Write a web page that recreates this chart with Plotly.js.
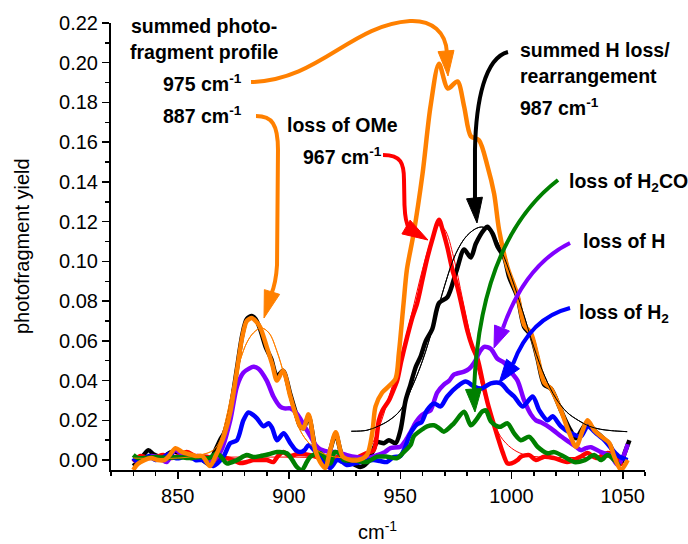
<!DOCTYPE html>
<html>
<head>
<meta charset="utf-8">
<script src="https://cdn.plot.ly/plotly-3.0.1.min.js"></script>
<style>html,body{margin:0;padding:0;background:#fff;}#chart{width:688px;height:544px;}</style>
</head>
<body>
<div id="chart"></div>
<script>
// ---- data ----
const sumX = [830,832,835,838,841,844,846,849,852,855,858,861,864.5,867,869,871,873.6,876.6,879,881,883.3,885,887,890,892.5,894.6,897.3,900.6,903,905,906.5,908.8,911.8,914,916.3,918.5,921,924,927.6,931,935,937.4,938.9,941.9,944.7,947.9,949.4,951.5,953,956,960,963.6,967.4,971.4,975.7,978.7,981.7,985.4,989.2,992.2,994.4,998.2,1002.7,1005.7,1008.7,1011.7,1014.7,1017.7,1022.2,1026,1029,1032,1034.2,1037.2,1040.2,1044,1046.2,1049.2,1052.2];
const sumY = [-0.005,-0.002,0.000,0.001,0.000,0.000,0.002,0.006,0.004,0.003,0.002,0.002,-0.003,0.002,0.007,0.013,0.024,0.045,0.062,0.070,0.0715,0.070,0.067,0.057,0.048,0.040,0.045,0.032,0.023,0.017,0.016,0.023,0.005,-0.001,-0.004,0.005,0.014,0.002,0.000,0.000,0.0025,0.0135,0.027,0.034,0.037,0.041,0.054,0.079,0.096,0.114,0.144,0.178,0.1995,0.187,0.1906,0.178,0.163,0.161,0.148,0.134,0.116,0.097,0.083,0.068,0.064,0.052,0.039,0.036,0.025,0.0135,0.0067,0.015,0.020,0.015,0.012,0.0085,0.0017,-0.005,0.000];

const hX = [830,833,836.8,839,841,844,847,850,853,856,860,864,866.5,869,871,873.6,876.6,879,881,883.3,885,887,889.5,892,894.6,897.3,900.6,903,905,906.5,908.8,911.8,914,916.3,918.5,921,924,927.6,932,935,937.5,939.6,942.6,944.9,947.9,950.1,952.4,954.6,957,959.1,961.5,964.4,967.4,971.2,975.2,978.7,981.7,984,987.7,989.2,991.5,993.7,996.7,999,1002.7,1005.7,1008.7,1011.7,1014.7,1017.7,1022.2,1026,1029,1032,1034.2,1037.2,1040.2,1044,1046.5,1049.2,1051,1053];
const hY = [-0.003,0.000,0.005,0.003,0.002,0.002,0.004,0.004,0.002,0.001,0.001,-0.002,0.004,0.010,0.014,0.025,0.046,0.063,0.071,0.0725,0.071,0.066,0.057,0.051,0.042,0.045,0.033,0.024,0.017,0.016,0.022,0.006,0.000,-0.003,0.005,0.013,0.002,-0.001,-0.0035,-0.0015,0.004,0.009,0.0085,0.010,0.0085,0.015,0.030,0.038,0.047,0.052,0.060,0.066,0.079,0.082,0.095,0.106,0.102,0.109,0.116,0.1175,0.114,0.1075,0.102,0.092,0.082,0.067,0.063,0.051,0.038,0.036,0.025,0.016,0.011,0.016,0.019,0.015,0.012,0.008,0.002,-0.0015,0.004,0.010];

const omeX = [830,833,837,840,843.5,847,850,854,858,863,867,871,875,878,881,884,887,890,893,895,897.6,900,904,909.6,914,918,922,926,930,935,938.1,940.4,942,944.9,947.2,948.6,950.5,953.1,955.5,957.6,960,962,964.4,967.4,969,971.2,973.4,975.5,977.2,980.2,982.4,984.7,987.7,989.2,991.5,993.7,996,998.2,1000,1002.7,1004.2,1008,1011,1014.7,1019.2,1025,1031,1034.2,1038,1043.2,1047,1049.5];
const omeY = [-0.001,0.002,0.001,0.0015,0.0025,0.001,0.002,0.004,0.002,0.0017,0.000,0.001,0.000,-0.0015,-0.001,0.000,0.000,0.000,-0.001,0.002,0.004,0.002,0.003,0.0025,0.001,0.000,0.0015,0.000,0.001,0.0035,0.005,0.020,0.025,0.030,0.036,0.040,0.050,0.062,0.072,0.079,0.091,0.101,0.111,0.121,0.116,0.107,0.096,0.088,0.080,0.065,0.057,0.051,0.036,0.029,0.020,0.012,0.004,-0.0017,-0.0017,0.000,0.0017,0.0025,0.000,0.0017,0.001,-0.001,0.0017,0.0035,0.001,0.0035,0.0017,-0.003];

const lossHX = [830,834,838,842,845,848.8,852,855.5,859,863,866,868,870,873.6,876.6,879.5,882,884,886.3,890,893,896,898,900.6,903,905,907.5,909.6,912,914,918.6,921.6,926,930,935,939.6,943,945.6,950.1,952.5,954.6,957,959.1,961.5,963.6,966.6,969.6,972,974.1,978.7,981,983.2,986,987.7,990.7,993.7,996.7,1000,1002.7,1005.7,1008.7,1011,1013.2,1017.7,1022.2,1026,1029,1031.2,1033.5,1035.7,1040.2,1044.7,1047.7,1050.7,1052.2];
const lossHY = [0.001,0.000,0.002,0.001,-0.001,0.005,0.003,0.0017,0.002,0.000,0.000,0.002,0.006,0.020,0.037,0.044,0.046,0.047,0.046,0.040,0.032,0.027,0.026,0.026,0.024,0.021,0.016,0.012,0.0075,0.0055,0.004,0.004,0.0025,0.0015,0.001,0.0025,0.004,0.006,0.0067,0.010,0.014,0.019,0.022,0.024,0.025,0.034,0.038,0.040,0.043,0.0445,0.046,0.049,0.055,0.057,0.056,0.051,0.049,0.044,0.040,0.030,0.023,0.020,0.019,0.016,0.012,0.009,0.0067,0.005,0.006,0.0065,0.004,0.002,-0.0025,0.003,0.008];

const lossH2X = [830,832,834.5,837,840,843,846,849,851,855,858,861,866,870.5,873.6,876.6,879.5,881.8,883.5,885.6,888.6,890.8,892.5,894.6,897.6,900.6,903,905,907,908.8,912.6,915,917.1,918.6,921.6,924,926,930,934,938.1,941,944,947,950,952,954.6,957.6,959.5,962,965.1,968.1,971.1,975.6,979.4,983.2,986.5,990.7,995.2,998.2,1001.2,1005,1009.5,1012.5,1016.2,1018.5,1022.2,1026.7,1031.2,1034.2,1038,1041.7,1045.5,1048.5,1052.2];
const lossH2Y = [0.001,-0.001,0.000,0.002,0.000,0.001,0.003,0.001,0.001,0.0025,0.000,0.000,-0.003,0.0017,0.0085,0.010,0.020,0.024,0.023,0.021,0.017,0.0185,0.016,0.010,0.0135,0.0085,0.005,0.004,0.005,0.0075,0.0034,0.000,-0.003,-0.004,0.000,-0.001,-0.0025,-0.0015,-0.0005,0.000,-0.0005,-0.001,0.0015,0.002,0.006,0.0135,0.018,0.019,0.025,0.0285,0.027,0.032,0.037,0.0395,0.037,0.036,0.0386,0.0386,0.035,0.032,0.027,0.032,0.025,0.020,0.022,0.017,0.0135,0.012,0.017,0.0135,0.010,0.005,0.0017,0.000];

const h2coX = [830,832,835,840,845,850,855,860,864,867.5,870,872,876.6,881,884,887,891,894.6,899,901.5,903.5,905.8,908,909.6,914,918.6,920.5,923,924.6,929,935,939.6,944.1,948.6,951.6,954.6,956.1,960.6,962.1,965.1,967.5,969.6,974.1,978.7,981.7,984,986.9,988.5,990.7,993.7,995.2,998.2,1001.2,1004.2,1008,1011.7,1016.2,1019.2,1023.7,1028.2,1033,1037.2,1040.2,1043.2,1046.2,1048.5];
const h2coY = [0.0025,0.001,0.001,0.0015,0.001,0.0015,0.001,0.0015,0.001,0.0034,0.001,-0.0017,0.000,0.0025,0.0015,0.002,0.003,0.004,0.0034,0.000,-0.0034,-0.005,-0.001,0.0017,0.0035,-0.0017,0.004,0.003,0.000,0.000,-0.001,0.0017,0.0017,0.001,0.004,0.0075,0.012,0.016,0.017,0.0175,0.016,0.0143,0.0185,0.0243,0.0175,0.020,0.0245,0.025,0.0195,0.017,0.0168,0.0185,0.0134,0.010,0.0117,0.0067,0.0034,0.004,0.0017,-0.001,0.000,0.0025,0.000,0.0025,0.000,-0.003];

// fitted profiles (thin lines)
const fit887X = [830,850,860,866,869,872,875,878,881,884,887.5,891,894.5,898,901,905,909,914,920,928,935];
const fit887Y = [0.001,0.001,0.0025,0.005,0.010,0.022,0.038,0.050,0.059,0.064,0.0665,0.064,0.055,0.042,0.028,0.015,0.0085,0.004,0.0017,0.001,0.001];
const fitOMeX = [830,900,930,935,940,945,950,955,960,964,967,970,974,978,982,986,990,995,1000,1005,1010,1050];
const fitOMeY = [0.0015,0.0015,0.0015,0.004,0.015,0.032,0.051,0.073,0.096,0.111,0.118,0.116,0.102,0.081,0.060,0.040,0.025,0.012,0.006,0.003,0.0018,0.0015];
const fitHX = [928,935,940,945,950,955,960,965,970,975,980,985,988,992,996,1000,1005,1010,1015,1020,1025,1030,1035,1040,1045,1052];
const fitHY = [0.0145,0.015,0.017,0.020,0.025,0.036,0.050,0.068,0.088,0.104,0.113,0.117,0.117,0.113,0.104,0.092,0.075,0.057,0.042,0.031,0.024,0.020,0.017,0.0155,0.0148,0.0143];

const xTicks = [850,900,950,1000,1050];
const yTicks = [0,0.02,0.04,0.06,0.08,0.10,0.12,0.14,0.16,0.18,0.20,0.22];

// ---- colours ----
const ORANGE = '#FF8000', RED = '#FF0000', PURPLE = '#8000FF', BLUE = '#0000FF', GREEN = '#008000', BLACK = '#000000';

function thick(x, y, c){ return {x:x, y:y, type:'scatter', mode:'lines', line:{color:c, width:4.5, shape:'spline', smoothing:0.8}, hoverinfo:'skip', showlegend:false}; }
function thin(x, y, c){ return {x:x, y:y, type:'scatter', mode:'lines', line:{color:c, width:1, shape:'spline', smoothing:1}, hoverinfo:'skip', showlegend:false}; }

const traces = [
  thin(fit887X, fit887Y, ORANGE),
  thin(fitOMeX, fitOMeY, RED),
  thin(fitHX, fitHY, BLACK),
  thick(hX, hY, BLACK),
  thick(omeX, omeY, RED),
  thick(lossHX, lossHY, PURPLE),
  thick(lossH2X, lossH2Y, BLUE),
  thick(h2coX, h2coY, GREEN),
  thick(sumX, sumY, ORANGE),
  thin(fit887X, fit887Y, ORANGE),
  thin(fitHX, fitHY, BLACK)
];

// ---- pixel -> paper helpers for annotations / arrows ----
const PL = 111, PT = 23, PW = 534, PH = 447;
function px(x){ return (x - PL) / PW; }
function py(y){ return (PT + PH - y) / PH; }
function P(x, y){ return px(x).toFixed(4) + ',' + py(y).toFixed(4); }

function arrowBody(d, c){ return {type:'path', xref:'paper', yref:'paper', path:d, line:{color:c, width:4}, fillcolor:'rgba(0,0,0,0)'}; }
function arrowHead(tip, back, hw, c){
  const dx = tip[0]-back[0], dy = tip[1]-back[1];
  const len = Math.sqrt(dx*dx+dy*dy);
  const nx = -dy/len*hw, ny = dx/len*hw;
  const d = 'M' + P(tip[0], tip[1]) + ' L' + P(back[0]+nx, back[1]+ny) + ' L' + P(back[0]-nx, back[1]-ny) + ' Z';
  return {type:'path', xref:'paper', yref:'paper', path:d, line:{color:c, width:1}, fillcolor:c};
}

const shapes = [
  // orange: summed profile 975
  arrowBody('M' + P(251,82) + ' C' + P(320,80) + ' ' + P(350,25) + ' ' + P(410,21) + ' C' + P(432,20) + ' ' + P(446,32) + ' ' + P(447,53), ORANGE),
  arrowHead([448,76], [446,51], 8, ORANGE),
  // orange: 887
  arrowBody('M' + P(256,116) + ' C' + P(272,116) + ' ' + P(278,124) + ' ' + P(278,150) + ' L' + P(277,265) + ' C' + P(276,283) + ' ' + P(273,290) + ' ' + P(271,295), ORANGE),
  arrowHead([264,318], [272,292], 8, ORANGE),
  // red: OMe
  arrowBody('M' + P(383,155) + ' C' + P(401,155) + ' ' + P(404,163) + ' ' + P(404,180) + ' L' + P(404.5,205) + ' C' + P(405,218) + ' ' + P(406,224) + ' ' + P(409,228), RED),
  arrowHead([428,240], [406,227], 8, RED),
  // black: H loss
  arrowBody('M' + P(508,52) + ' C' + P(485,58) + ' ' + P(476,100) + ' ' + P(475,150) + ' L' + P(475,200), BLACK),
  arrowHead([477,223], [474.5,198], 8, BLACK),
  // green: H2CO
  arrowBody('M' + P(558,180) + ' Q' + P(480,240) + ' ' + P(474,390), GREEN),
  arrowHead([475,412], [473.5,389], 8, GREEN),
  // purple: H
  arrowBody('M' + P(570,243) + ' Q' + P(525,265) + ' ' + P(503,328), PURPLE),
  arrowHead([494,348], [502,328], 8, PURPLE),
  // blue: H2
  arrowBody('M' + P(570,308) + ' Q' + P(530,318) + ' ' + P(513,364), BLUE),
  arrowHead([499,383], [513,364], 8, BLUE)
];

const FONT = 'Liberation Sans, Arial, sans-serif';
function txt(s, x, y, anchor, size){
  return {text:s, xref:'paper', yref:'paper', x:px(x), y:py(y), xanchor:anchor||'center', yanchor:'middle', showarrow:false, font:{family:FONT, size:size||19.5, color:'#000'}};
}

const annotations = [
  txt('<b>summed photo-</b>', 204, 26),
  txt('<b>fragment profile</b>', 204, 52),
  txt('<b>975 cm<sup>-1</sup></b>', 202, 83),
  txt('<b>887 cm<sup>-1</sup></b>', 202, 115),
  txt('<b>loss of OMe</b>', 342, 125),
  txt('<b>967 cm<sup>-1</sup></b>', 342, 156),
  txt('<b>summed H loss/</b>', 518, 50, 'left'),
  txt('<b>rearrangement</b>', 518, 76, 'left'),
  txt('<b>987 cm<sup>-1</sup></b>', 518, 107, 'left'),
  txt('<b>loss of H<sub>2</sub>CO</b>', 567, 182, 'left'),
  txt('<b>loss of H</b>', 581, 241, 'left'),
  txt('<b>loss of H<sub>2</sub></b>', 577, 313, 'left'),
  {text:'photofragment yield', xref:'paper', yref:'paper', x:px(22), y:py(246), xanchor:'center', yanchor:'middle', textangle:-90, showarrow:false, font:{family:FONT, size:20, color:'#000'}},
  {text:'cm<sup>-1</sup>', xref:'paper', yref:'paper', x:px(357), y:py(530), xanchor:'left', yanchor:'middle', borderpad:0, showarrow:false, font:{family:FONT, size:20, color:'#000'}}
];

const layout = {
  width:688, height:544,
  margin:{l:PL, r:688-PL-PW, t:PT, b:544-PT-PH, pad:0},
  paper_bgcolor:'#fff', plot_bgcolor:'#fff',
  showlegend:false,
  font:{family:FONT, size:20, color:'#000'},
  xaxis:{range:[820,1060], tickvals:xTicks, ticks:'outside', ticklen:7, tickwidth:1.5, tickcolor:'#000',
         showline:true, linecolor:'#000', linewidth:2, showgrid:false, zeroline:false,
         minor:{dtick:10, tick0:820, ticks:'outside', ticklen:4, tickwidth:1.5, tickcolor:'#000', showgrid:false},
         tickfont:{family:FONT, size:20}},
  yaxis:{range:[-0.005,0.22], tickvals:yTicks, tickformat:'.2f', ticks:'outside', ticklen:7, tickwidth:1.5, tickcolor:'#000',
         showline:true, linecolor:'#000', linewidth:2, showgrid:false, zeroline:false,
         minor:{dtick:0.01, tick0:0, ticks:'outside', ticklen:4, tickwidth:1.5, tickcolor:'#000', showgrid:false},
         tickfont:{family:FONT, size:20}},
  shapes:shapes,
  annotations:annotations
};

Plotly.newPlot('chart', traces, layout, {displayModeBar:false, staticPlot:true});
</script>
</body>
</html>
